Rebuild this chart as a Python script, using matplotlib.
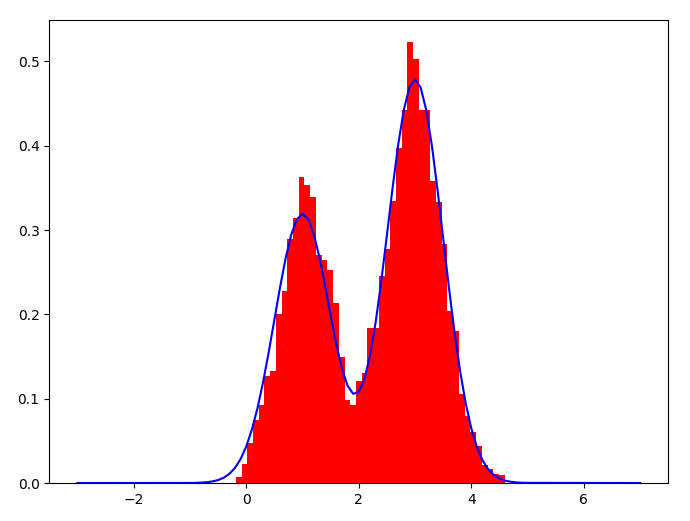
import numpy as np
import matplotlib
matplotlib.use("Agg")
import matplotlib.pyplot as plt

# Histogram (density)
bin_lo = -0.184
bin_hi = 4.593
hist_heights = [0.0067, 0.022, 0.048, 0.075, 0.093, 0.127, 0.133, 0.201, 0.228,
                0.289, 0.314, 0.363, 0.354, 0.339, 0.271, 0.265, 0.253, 0.214,
                0.149, 0.099, 0.093, 0.121, 0.131, 0.184, 0.184, 0.245, 0.278,
                0.335, 0.397, 0.443, 0.523, 0.503, 0.443, 0.443, 0.358, 0.333,
                0.283, 0.204, 0.180, 0.106, 0.080, 0.060, 0.044, 0.021, 0.017,
                0.011, 0.010]

# Blue curve, values
curve_x = [-3.0, -1.0, -0.9, -0.8, -0.7, -0.6, -0.5, -0.4, -0.3, -0.2, -0.1,
           0.0, 0.1, 0.2, 0.3, 0.4, 0.5, 0.6, 0.7, 0.8, 0.9,
           1.0, 1.1, 1.2, 1.3, 1.4, 1.5, 1.6, 1.7, 1.8, 1.9,
           2.0, 2.1, 2.2, 2.3, 2.4, 2.5, 2.6, 2.7, 2.8, 2.9,
           3.0, 3.1, 3.2, 3.3, 3.4, 3.5, 3.6, 3.7, 3.8, 3.9,
           4.0, 4.1, 4.2, 4.3, 4.4, 4.5, 4.6, 4.7, 4.8, 4.9, 5.0, 7.0]
curve_y = [0.0, 0.0001, 0.0002, 0.0005, 0.0010, 0.0019, 0.0035, 0.0063, 0.0109, 0.0179, 0.0284,
           0.0432, 0.0632, 0.0887, 0.1198, 0.1553, 0.1935, 0.2317, 0.2665, 0.2946, 0.3128,
           0.3193, 0.3131, 0.2953, 0.2680, 0.2346, 0.1988, 0.1648, 0.1361, 0.1156, 0.1058,
           0.1080, 0.1231, 0.1510, 0.1906, 0.2393, 0.2938, 0.3495, 0.4008, 0.4424, 0.4694,
           0.4788, 0.4692, 0.4419, 0.3998, 0.3476, 0.2903, 0.2330, 0.1797, 0.1331, 0.0947,
           0.0648, 0.0426, 0.0269, 0.0163, 0.0095, 0.0053, 0.0029, 0.0015, 0.0007, 0.0004, 0.0002, 0.0]

edges = np.linspace(bin_lo, bin_hi, len(hist_heights) + 1)

fig = plt.figure(figsize=(6.9, 5.21), dpi=100)
ax = fig.add_axes([0.0714, 0.0729, 0.8971, 0.8887])
ax.hist(edges[:-1], bins=edges, weights=hist_heights, color='r')
ax.plot(curve_x, curve_y, color='b')

fig.savefig("out.png", dpi=100)
